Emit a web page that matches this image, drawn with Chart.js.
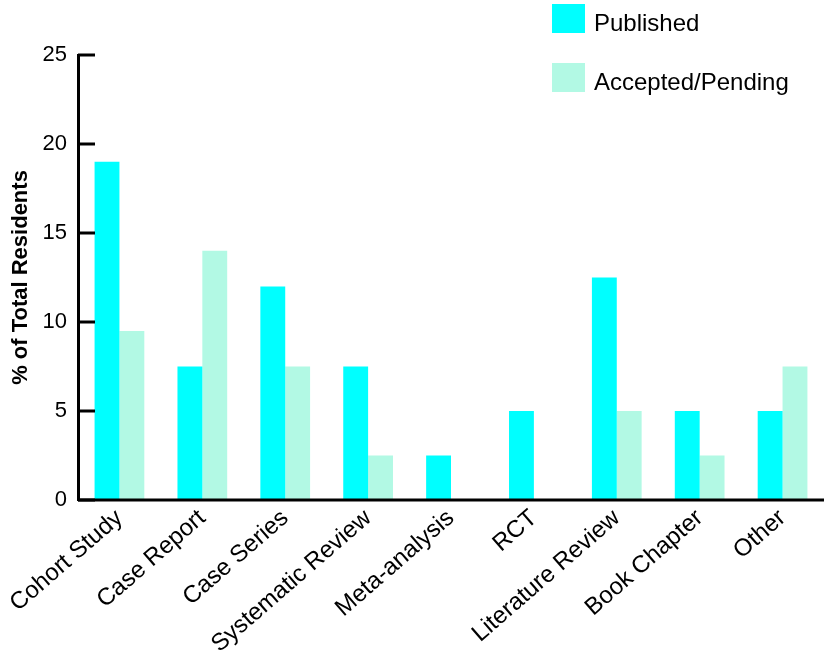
<!DOCTYPE html>
<html>
<head>
<meta charset="utf-8">
<script src="https://cdn.jsdelivr.net/npm/chart.js@4/dist/chart.umd.min.js"></script>
<style>
  html, body { margin: 0; padding: 0; background: #fff; }
  #wrap { width: 824px; height: 660px; }
</style>
</head>
<body>
<div id="wrap"><canvas id="pubChart" width="824" height="660"></canvas></div>
<script>
// === DATA ===
const categories = ['Cohort Study', 'Case Report', 'Case Series', 'Systematic Review',
    'Meta-analysis', 'RCT', 'Literature Review', 'Book Chapter', 'Other'];
const published = [19, 7.5, 12, 7.5, 2.5, 5, 12.5, 5, 5];
const acceptedPending = [9.5, 14, 7.5, 2.5, 0, 0, 5, 2.5, 7.5];
const yTicks = [0, 5, 10, 15, 20, 25];

const FONT = '"Liberation Sans", Arial, sans-serif';

// inward tick marks on the y axis + x axis line
const axisPlugin = {
    id: 'axisPlugin',
    afterDatasetsDraw(chart) {
        const ctx = chart.ctx;
        const y = chart.scales.y;
        const area = chart.chartArea;
        ctx.save();
        ctx.strokeStyle = '#000';
        ctx.lineWidth = 3;
        yTicks.forEach(v => {
            const py = y.getPixelForValue(v);
            ctx.beginPath();
            ctx.moveTo(area.left, py);
            ctx.lineTo(area.left + 17, py);
            ctx.stroke();
        });
        ctx.beginPath();
        ctx.moveTo(area.left, y.getPixelForValue(0));
        ctx.lineTo(chart.width, y.getPixelForValue(0));
        ctx.stroke();
        ctx.restore();
    }
};

// vertical legend at top right
const legendPlugin = {
    id: 'legendPlugin',
    afterDraw(chart) {
        const ctx = chart.ctx;
        ctx.save();
        ctx.font = '24px ' + FONT;
        ctx.textBaseline = 'alphabetic';
        chart.data.datasets.forEach((ds, i) => {
            const top = 4 + i * 59;
            ctx.fillStyle = ds.backgroundColor;
            ctx.fillRect(552, top, 33, 29);
            ctx.fillStyle = '#000';
            ctx.fillText(ds.label, 594, top + 27);
        });
        ctx.restore();
    }
};

new Chart(document.getElementById('pubChart').getContext('2d'), {
    type: 'bar',
    data: {
        labels: categories,
        datasets: [{
            label: 'Published',
            data: published,
            backgroundColor: '#00FFFF'
        }, {
            label: 'Accepted/Pending',
            data: acceptedPending,
            backgroundColor: '#B2F9E4'
        }]
    },
    options: {
        responsive: false,
        animation: false,
        categoryPercentage: 0.6,
        barPercentage: 1.0,
        layout: {
            padding: { top: 55, right: 0, left: 0, bottom: 0 }
        },
        plugins: {
            legend: { display: false },
            tooltip: { enabled: false }
        },
        scales: {
            x: {
                grid: { display: false, drawTicks: false },
                border: { display: false },
                afterFit: axis => { axis.height = 160; },
                ticks: {
                    color: '#000',
                    font: { family: FONT, size: 24 },
                    maxRotation: 41,
                    minRotation: 41,
                    padding: 4,
                    autoSkip: false
                }
            },
            y: {
                min: 0,
                max: 25,
                afterBuildTicks: axis => { axis.ticks = yTicks.map(v => ({ value: v })); },
                afterFit: axis => { axis.width = 78; },
                grid: { display: false, drawTicks: false },
                border: { display: true, color: '#000', width: 3 },
                ticks: {
                    color: '#000',
                    font: { family: FONT, size: 22 },
                    padding: 11
                },
                title: {
                    display: true,
                    text: '% of Total Residents',
                    color: '#000',
                    font: { family: FONT, size: 22, weight: 'bold' },
                    padding: { top: 8, bottom: 0 }
                }
            }
        }
    },
    plugins: [axisPlugin, legendPlugin]
});
</script>
</body>
</html>
